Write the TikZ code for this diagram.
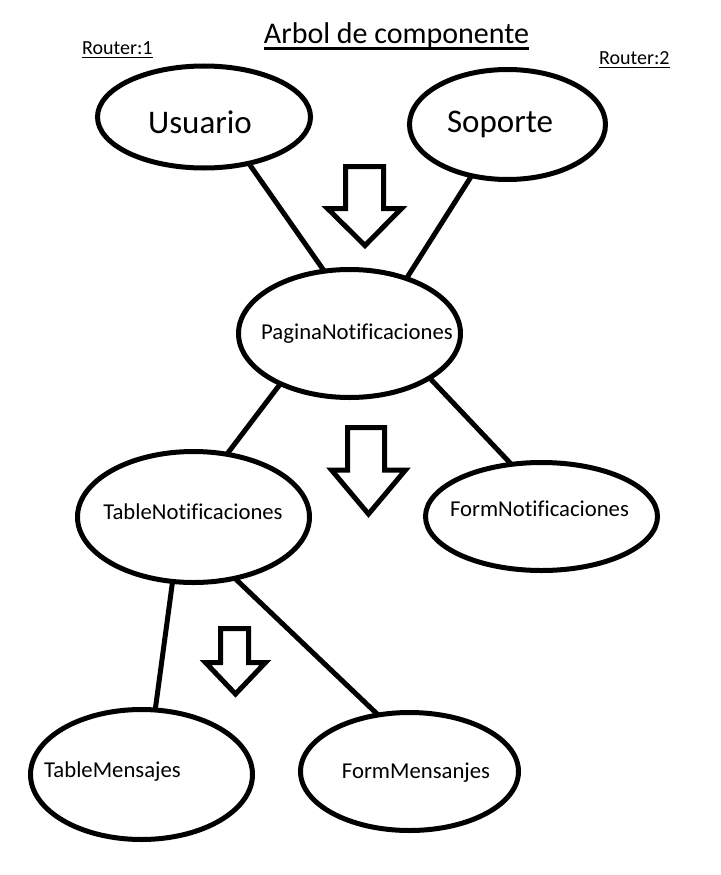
\documentclass[tikz,border=0pt]{standalone}
\usepackage{fontspec}
\setmainfont{Carlito}[Ligatures=CommonOff]
\usepackage{tikz}
\usetikzlibrary{shapes.geometric}

\begin{document}
\begin{tikzpicture}[x=1pt,y=-1pt,
    comp/.style={draw,ellipse,line width=5pt,inner sep=0pt,outer sep=0pt},
    big/.style={inner sep=0pt,text height=20.9pt,text depth=0pt,font=\fontsize{33}{40}\selectfont},
    mid/.style={inner sep=0pt,text height=14.3pt,text depth=0pt,font=\fontsize{22.7}{27}\selectfont},
    edge/.style={line width=5pt},
    bigarrow/.style={draw,line width=5pt,line join=miter}]
    \path[fill=white] (0,0) rectangle (720,875);
    % titulo y routers
    \node[anchor=base,inner sep=0pt,font=\fontsize{30}{36}\selectfont] (title) at (396.5,44) {Arbol de componente};
    \draw[line width=3pt] ([yshift=-5pt]title.base west) -- ([yshift=-5pt]title.base east);
    \node[anchor=base west,inner sep=0pt,font=\fontsize{20}{24}\selectfont] (r1) at (82,55) {Router:1};
    \draw[line width=1.5pt] ([yshift=-2.3pt]r1.base west) -- ([yshift=-2.3pt]r1.base east);
    \node[anchor=base west,inner sep=0pt,font=\fontsize{20}{24}\selectfont] (r2) at (599,65) {Router:2};
    \draw[line width=1.5pt] ([yshift=-2.3pt]r2.base west) -- ([yshift=-2.3pt]r2.base east);
    % componentes
    \node[comp,minimum width=213pt,minimum height=102pt,label={[big,xshift=-4pt,yshift=-6pt]center:Usuario}] (usr) at (204,117) {};
    \node[comp,minimum width=196pt,minimum height=110pt,label={[big,xshift=-7.5pt,yshift=2.8pt]center:Soporte}] (sop) at (507.5,124.5) {};
    \node[comp,minimum width=222pt,minimum height=128pt,label={[mid,xshift=7.5pt,yshift=1.5pt]center:PaginaNotificaciones}] (pag) at (349.5,333.5) {};
    \node[comp,minimum width=232pt,minimum height=131pt,label={[mid,xshift=-0.5pt,yshift=4.5pt]center:TableNotificaciones}] (tnot) at (193.5,517) {};
    \node[comp,minimum width=232pt,minimum height=108pt,label={[mid,xshift=-2pt,yshift=7.5pt]center:FormNotificaciones}] (fnot) at (541.5,516.5) {};
    \node[comp,minimum width=222pt,minimum height=130pt,label={[mid,xshift=-29pt,yshift=4pt]center:TableMensajes}] (tmen) at (141.5,774.5) {};
    \node[comp,minimum width=218pt,minimum height=118pt,label={[mid,xshift=6.5pt,yshift=0.5pt]center:FormMensanjes}] (fmen) at (409.5,771.5) {};
    % conexiones
    \draw[edge] (usr.-46) -- (pag.112);
    \draw[edge] (sop.-125.5) -- (pag.44);
    \draw[edge] (pag.-144.6) -- (tnot.62.7);
    \draw[edge] (pag.-29.4) -- (fnot.120.5);
    \draw[edge] (tnot.-108) -- (tmen.78.7);
    \draw[edge] (tnot.-56.2) -- (fmen.119.7);
    % flechas
    \draw[bigarrow] (345.5,166.5) -- (383.5,166.5) -- (383.5,208.5) -- (401.5,208.5) -- (365,245.5) -- (327.5,208.5) -- (345.5,208.5) -- cycle;
    \draw[bigarrow] (347.5,427.5) -- (384.5,427.5) -- (384.5,470) -- (405.5,470) -- (368.5,514) -- (331.5,470) -- (347.5,470) -- cycle;
    \draw[bigarrow] (220.5,628.5) -- (248.5,628.5) -- (248.5,662.5) -- (265.5,662.5) -- (235.5,694) -- (205.5,662.5) -- (220.5,662.5) -- cycle;
\end{tikzpicture}
\end{document}
